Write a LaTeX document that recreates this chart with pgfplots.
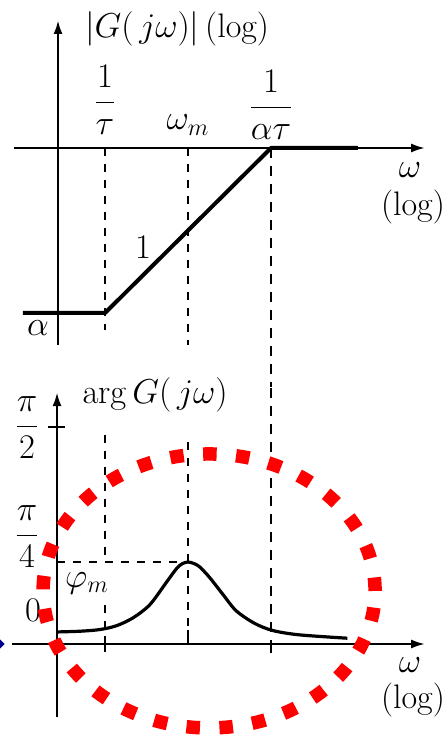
\documentclass[border=0pt]{standalone}
\usepackage{pgfplots}
\pgfplotsset{compat=1.18}
\usetikzlibrary{arrows.meta}
\begin{document}
\begin{tikzpicture}[
  axarrow/.style={-{Latex[length=7pt,width=4.5pt]}},
  guide/.style={line width=0.9pt, dash pattern=on 4pt off 4pt},
  lab/.style={font=\fontsize{17}{20}\selectfont, inner sep=0pt},
]
\useasboundingbox (0,0) rectangle (224pt,369pt);

% ---------------- magnitude: log|G| against log(omega*tau) ----------------
\begin{axis}[
  at={(2.7pt,187.75pt)}, anchor=south west,
  x=83pt, y=82.5pt,
  xmin=-0.6, xmax=2.0, ymin=-1.3, ymax=0.85,
  hide axis, clip=false,
]
  % axes
  \draw[line width=1.3pt, axarrow] (axis cs:-0.283,-1.194) -- (axis cs:-0.283,0.776);
  \draw[line width=1.1pt, axarrow] (axis cs:-0.548,0) -- (axis cs:1.928,0);
  % break frequencies and centre frequency
  \draw[guide] (axis cs:0,0) -- (axis cs:0,-1.103);
  \draw[guide] (axis cs:0.5,0) -- (axis cs:0.5,-1.194);
  \draw[line width=0.7pt, dash pattern=on 5pt off 4pt] (axis cs:1,0) -- (axis cs:1,-1.45);
  % asymptotic magnitude: alpha, slope 1, then 1
  \addplot[line width=2pt, line join=round] coordinates {
    (-0.494,-1) (0,-1) (1,0) (1.524,0)
  };
  % labels
  \node[lab] at (axis cs:0.434,0.725) {$|G(\,j\omega)|\,$(log)};
  \node[lab] at (axis cs:0,0.291) {$\displaystyle\frac{1}{\tau}$};
  \node[lab] at (axis cs:0.5,0.139) {$\omega_m$};
  \node[lab] at (axis cs:1,0.261) {$\displaystyle\frac{1}{\alpha\tau}$};
  \node[lab] at (axis cs:1.837,-0.133) {$\omega$};
  \node[lab] at (axis cs:1.855,-0.358) {(log)};
  \node[lab] at (axis cs:0.229,-0.6) {$1$};
  \node[lab] at (axis cs:-0.404,-1.09) {$\alpha$};
\end{axis}

% ---------------- phase: arg G in degrees against log(omega*tau) ----------------
\begin{axis}[
  at={(2.7pt,3.6pt)}, anchor=south west,
  x=83pt, y=1.2055pt,
  xmin=-0.6, xmax=2.0, ymin=-36, ymax=110,
  hide axis, clip=false,
]
  % axes
  \draw[line width=1.3pt, axarrow] (axis cs:-0.289,-30.3) -- (axis cs:-0.289,104.5);
  \draw[line width=1.1pt, axarrow] (axis cs:-0.560,0) -- (axis cs:1.928,0);
  \draw[line width=1.1pt] (axis cs:-0.343,90) -- (axis cs:-0.241,90);
  % ticks on the frequency axis
  \draw[line width=1.1pt] (axis cs:0,3.3) -- (axis cs:0,-3.3);
  \draw[line width=1.3pt] (axis cs:0.5,6) -- (axis cs:0.5,0);
  \draw[line width=0.8pt] (axis cs:1,0) -- (axis cs:1,-3.7);
  % guides
  \draw[guide] (axis cs:0,86.7) -- (axis cs:0,34);
  \draw[guide] (axis cs:0,16) -- (axis cs:0,0);
  \draw[guide] (axis cs:0.5,83.8) -- (axis cs:0.5,0);
  \draw[line width=0.7pt, dash pattern=on 5pt off 4pt] (axis cs:1,106) -- (axis cs:1,0);
  \draw[guide] (axis cs:-0.289,34) -- (axis cs:0.5,34);
  % phase lead
  \addplot[line width=1.6pt, smooth] coordinates {
    (-0.29,5.0) (-0.15,5.3) (-0.03,6.0) (0.07,7.6) (0.17,10.9)
    (0.27,16.3) (0.37,25.6) (0.43,31.2) (0.465,33.3) (0.50,34.0)
    (0.535,33.4) (0.57,32.0) (0.63,27.6) (0.71,20.6) (0.79,13.8)
    (0.90,8.6) (1.01,5.6) (1.17,3.8) (1.46,2.4)
  };
  % labels
  \node[lab] at (axis cs:0.301,103.3) {$\arg G(\,j\omega)$};
  \node[lab] at (axis cs:-0.47,89.6) {$\displaystyle\frac{\pi}{2}$};
  \node[lab] at (axis cs:-0.47,44.4) {$\displaystyle\frac{\pi}{4}$};
  \node[lab] at (axis cs:-0.434,14.1) {$0$};
  \node[lab] at (axis cs:-0.108,25.3) {$\varphi_m$};
  \node[lab] at (axis cs:1.837,-8.7) {$\omega$};
  \node[lab] at (axis cs:1.855,-23.2) {(log)};
  % marker at the left edge
  \fill[blue!55!black] (axis cs:-0.640,2.5) -- (axis cs:-0.605,0) -- (axis cs:-0.640,-2.5) -- cycle;
  % highlight round the peak
  \draw[red, line width=6.75pt, dash pattern=on 6.75pt off 9.75pt]
    (axis cs:0.627,22.0) ellipse [x radius=83pt, y radius=68.5pt];
\end{axis}
\end{tikzpicture}
\end{document}
